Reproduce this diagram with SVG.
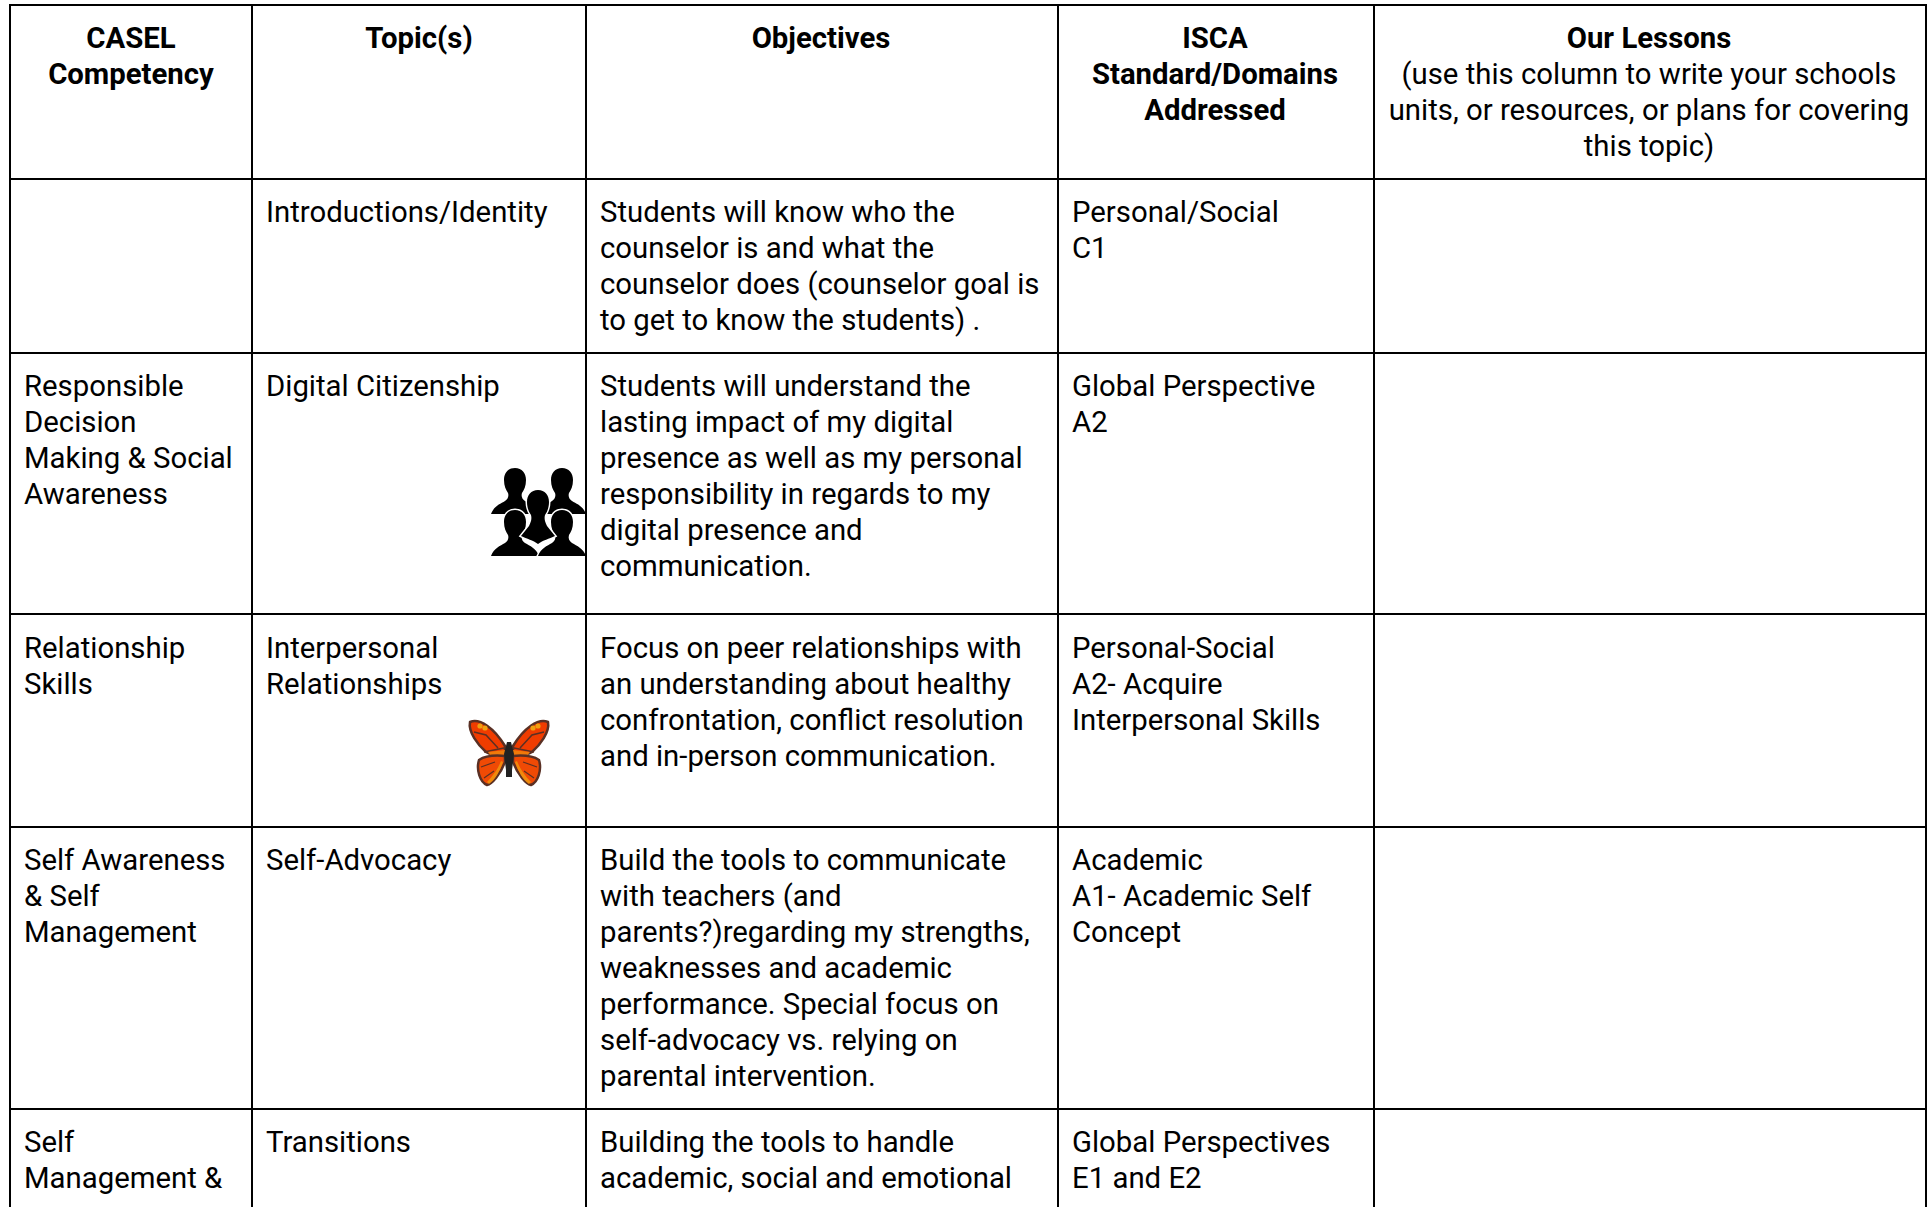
<svg xmlns="http://www.w3.org/2000/svg" width="1929" height="1207" viewBox="0 0 1929 1207">
<style>
text{font-family:Roboto,"Liberation Sans",sans-serif;font-size:29.33px;fill:#000}
.b{font-weight:700;text-anchor:middle}
.m{text-anchor:middle}
.g{fill:none;stroke:#000;stroke-width:2}
.halo{stroke:#fff;stroke-width:3;paint-order:stroke}
.wing{stroke:#5a3024;stroke-width:2.5;stroke-linejoin:round}
</style>
<defs>
<path id="person" d="M0 0c-7 0-11 5-11 12 0 6 2 10 4 13 1 3 0 6-3 8-5 3-11 5-14 13h48c-3-8-9-10-14-13-3-2-4-5-3-8 2-3 4-7 4-13 0-7-4-12-11-12z"/>
<g id="half-butterfly">
<path class="wing" fill="#f03c00" d="M470 722c10-4 24 6 35 24v6c-10 3-15 3-19 0-8-7-18-20-16-30z"/>
<path fill="none" stroke="#5a3024" stroke-width="1.5" d="M474 732l12 3 12 13M484 752l20-4"/>
<path fill="#f07a0a" d="M488 752l17-2v5l-14 1z"/>
<path class="wing" fill="#f04a05" d="M505 756v6c-5 13-13 22-18 23-7-3-11-15-8-25 6-4 16-5 26-4z"/>
<path fill="#f08a0c" d="M503 762c-3 9-8 18-14 22l-2-2c5-5 11-13 14-21z"/>
<path fill="none" stroke="#5a3024" stroke-width="1.2" d="M481 767l14-5M484 778l10-7"/>
<circle cx="480" cy="726" r="2.6" fill="#f0a010"/><circle cx="485" cy="728" r="2.6" fill="#f0a010"/>
</g>
</defs>
<rect width="1929" height="1207" fill="#fff"/>
<g id="people-icon">
<use href="#person" x="515" y="468"/><use href="#person" x="562" y="468"/>
<use class="halo" href="#person" x="515" y="510"/><use class="halo" href="#person" x="562" y="510"/>
<path class="halo" transform="translate(538 490)" d="M0 0c-7 0-11 5-11 12 0 6 2 10 4 13 1 4 0 7-2 11l-8 10c6 3 12 4 17 8 5-4 11-5 17-8l-8-10c-2-4-3-7-2-11 2-3 4-7 4-13 0-7-4-12-11-12z"/>
</g>
<g id="butterfly-icon">
<use href="#half-butterfly"/>
<use href="#half-butterfly" transform="matrix(-1 0 0 1 1018 0)"/>
<path d="M507 742h4l3 12-2 16v7h-6v-7l-2-16z" fill="#222"/>
</g>
<g id="grid" class="g">
<path d="M9 5H1927M10 179H1926M10 353H1926M10 614H1926M10 827H1926M10 1109H1926"/>
<path d="M10 4V1207M252 4V1207M586 4V1207M1058 4V1207M1374 4V1207M1926 4V1207"/>
</g>
<g id="header">
<text class="b" x="131" y="48">CASEL</text><text class="b" x="131" y="84">Competency</text>
<text class="b" x="419" y="48">Topic(s)</text>
<text class="b" x="821" y="48">Objectives</text>
<text class="b" x="1215" y="48">ISCA</text><text class="b" x="1215" y="84">Standard/Domains</text><text class="b" x="1215" y="120">Addressed</text>
<text class="b" x="1649" y="48">Our Lessons</text>
<text class="m" x="1649" y="84">(use this column to write your schools</text>
<text class="m" x="1649" y="120">units, or resources, or plans for covering</text>
<text class="m" x="1649" y="156">this topic)</text>
</g>
<g id="row1">
<text x="266" y="222">Introductions/Identity</text>
<text x="600" y="222">Students will know who the</text><text x="600" y="258">counselor is and what the</text><text x="600" y="294">counselor does (counselor goal is</text><text x="600" y="330">to get to know the students) .</text>
<text x="1072" y="222">Personal/Social</text><text x="1072" y="258">C1</text>
</g>
<g id="row2">
<text x="24" y="396">Responsible</text><text x="24" y="432">Decision</text><text x="24" y="468">Making &amp; Social</text><text x="24" y="504">Awareness</text>
<text x="266" y="396">Digital Citizenship</text>
<text x="600" y="396">Students will understand the</text><text x="600" y="432">lasting impact of my digital</text><text x="600" y="468">presence as well as my personal</text><text x="600" y="504">responsibility in regards to my</text><text x="600" y="540">digital presence and</text><text x="600" y="576">communication.</text>
<text x="1072" y="396">Global Perspective</text><text x="1072" y="432">A2</text>
</g>
<g id="row3">
<text x="24" y="658">Relationship</text><text x="24" y="694">Skills</text>
<text x="266" y="658">Interpersonal</text><text x="266" y="694">Relationships</text>
<text x="600" y="658">Focus on peer relationships with</text><text x="600" y="694">an understanding about healthy</text><text x="600" y="730">confrontation, conflict resolution</text><text x="600" y="766">and in-person communication.</text>
<text x="1072" y="658">Personal-Social</text><text x="1072" y="694">A2- Acquire</text><text x="1072" y="730">Interpersonal Skills</text>
</g>
<g id="row4">
<text x="24" y="870">Self Awareness</text><text x="24" y="906">&amp; Self</text><text x="24" y="942">Management</text>
<text x="266" y="870">Self-Advocacy</text>
<text x="600" y="870">Build the tools to communicate</text><text x="600" y="906">with teachers (and</text><text x="600" y="942">parents?)regarding my strengths,</text><text x="600" y="978">weaknesses and academic</text><text x="600" y="1014">performance. Special focus on</text><text x="600" y="1050">self-advocacy vs. relying on</text><text x="600" y="1086">parental intervention.</text>
<text x="1072" y="870">Academic</text><text x="1072" y="906">A1- Academic Self</text><text x="1072" y="942">Concept</text>
</g>
<g id="row5">
<text x="24" y="1152">Self</text><text x="24" y="1188">Management &amp;</text>
<text x="266" y="1152">Transitions</text>
<text x="600" y="1152">Building the tools to handle</text><text x="600" y="1188">academic, social and emotional</text>
<text x="1072" y="1152">Global Perspectives</text><text x="1072" y="1188">E1 and E2</text>
</g>
</svg>
